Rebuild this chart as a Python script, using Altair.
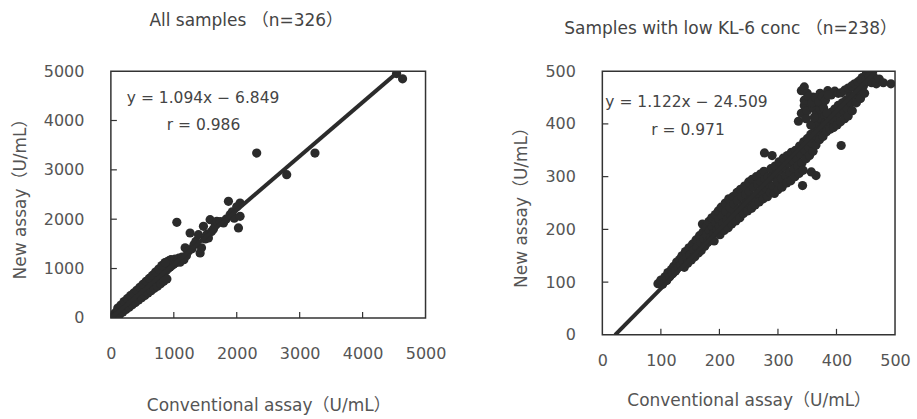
import altair as alt
import pandas as pd

# ---------------- data ----------------
left_x = [15, 25, 30, 40, 45, 55, 60, 70, 75, 85, 90, 100, 105, 115, 120, 130, 135, 145, 150, 160,
          165, 175, 180, 190, 195, 205, 210, 220, 225, 235, 240, 250, 255, 265, 270, 280, 285, 295, 300, 310,
          315, 325, 330, 340, 345, 355, 360, 370, 375, 385, 390, 400, 405, 415, 420, 430, 440, 450, 455, 465,
          470, 480, 490, 500, 505, 515, 520, 530, 540, 550, 555, 565, 575, 585, 590, 600, 610, 620, 630, 640,
          645, 655, 665, 675, 685, 695, 705, 715, 725, 735, 745, 755, 765, 780, 790, 800, 810, 825, 835, 850,
          860, 875, 885, 900, 910, 925, 940, 955, 970, 985, 1000, 1020, 1040, 1060, 1048, 1080, 1100, 1130, 1160, 1180,
          1200, 1230, 1259, 1290, 1320, 1350, 1392, 1418, 1440, 1471, 1500, 1530, 1550, 1577, 1600, 1630, 1660, 1683, 1740, 1789,
          1830, 1868, 1894, 1930, 1960, 2027, 2053, 2053, 2000, 2317, 2794, 3243, 4540, 4635,
          110, 160, 210, 260, 310, 360, 410, 460, 510, 560, 610, 660, 710, 760, 810, 860,
          140, 190, 240, 290, 340, 390, 440, 490, 540, 590, 640, 690, 740, 790, 840, 890]
left_y = [20, 45, 15, 60, 30, 75, 45, 95, 60, 110, 80, 130, 95, 150, 110, 165, 125, 185, 140, 200,
          155, 220, 170, 240, 185, 260, 200, 280, 215, 300, 230, 320, 245, 340, 260, 355, 275, 375, 290, 395,
          305, 410, 320, 430, 335, 450, 350, 470, 365, 490, 380, 510, 395, 530, 410, 545, 430, 565, 450, 585,
          465, 600, 480, 620, 500, 640, 515, 660, 530, 680, 550, 700, 565, 720, 585, 740, 600, 760, 620, 790,
          640, 810, 660, 840, 680, 860, 700, 890, 720, 920, 760, 950, 790, 980, 820, 1010, 860, 1040, 900, 1080,
          940, 1110, 970, 1140, 1000, 1160, 1030, 1180, 1060, 1150, 1090, 1190, 1120, 1160, 1937, 1210, 1130, 1230, 1180, 1420,
          1260, 1350, 1720, 1400, 1480, 1550, 1686, 1316, 1420, 1856, 1600, 1700, 1619, 1990, 1750, 1800, 1880, 1957, 1950, 1923,
          2000, 2362, 2092, 2150, 2020, 1822, 2059, 2328, 2250, 3340, 2901, 3340, 4950, 4845,
          200, 260, 330, 390, 450, 500, 560, 620, 680, 740, 800, 860, 930, 990, 1060, 1120,
          70, 120, 170, 215, 265, 310, 360, 410, 455, 505, 550, 600, 640, 690, 740, 790]

right_x = [95, 100, 103, 107, 110, 112, 115, 118, 120, 122, 125, 127, 130, 132, 134,
           136, 138, 140, 142, 144, 146, 148, 150, 152, 154, 156, 158, 160, 162, 164, 166, 168, 169, 171, 172, 174, 175, 177, 178, 180,
           182, 183, 185, 187, 188, 190, 191, 193, 194, 196, 198, 199, 200, 201, 203, 205, 206, 208, 210, 211, 213, 215, 216, 218, 220, 221, 223, 225, 226, 228,
           230, 231, 233, 235, 236, 238, 240, 241, 243, 245, 246, 248, 250, 251, 253, 255, 256, 258, 260, 261, 263, 265, 266, 268, 270, 271, 273, 275, 276, 278, 280, 277, 290,
           282, 283, 285, 287, 288, 290, 292, 294, 295, 297, 299, 300, 302, 304, 306, 307, 309, 311, 313, 315, 316, 318, 320, 322, 323, 325, 327, 329,
           342, 357, 365, 408,
           330, 332, 334, 336, 337, 339, 341, 343, 344, 346, 348, 350, 352, 354, 356, 358, 360, 361, 363, 365, 367, 369, 371, 373, 375, 377, 379, 381, 383,
           385, 387, 389, 391, 393, 395, 397, 399, 401, 403, 405, 407, 410, 412, 414, 416, 418, 420, 423, 425, 427, 430, 432, 434, 437, 439, 441, 444, 446, 448, 451, 453, 456, 458, 461, 463,
           340, 345, 350, 355, 360, 366, 372, 378, 385, 391, 397, 403, 408, 414, 420, 426, 431, 437, 442, 450, 456, 460, 468, 473, 480, 493,
           335, 340, 345, 350, 355, 360, 365, 368, 372, 376,
           345, 352, 358, 364, 370, 376, 381, 386, 348, 356, 362, 378, 384]
right_y = [97, 104, 96, 110, 103, 118, 110, 124, 116, 130, 121, 138, 128, 143, 133,
           150, 140, 128, 158, 146, 136, 165, 152, 142, 172, 160, 148, 180, 166, 155, 188, 175, 160, 210, 195, 182, 168, 205, 190, 175,
           215, 198, 185, 222, 205, 192, 178, 228, 212, 198, 235, 220, 205, 190, 242, 226, 212, 198, 250, 234, 218, 203, 258, 242, 226, 210, 262, 248, 232, 216,
           270, 255, 238, 222, 276, 262, 245, 230, 282, 266, 250, 235, 290, 272, 256, 240, 295, 280, 262, 246, 300, 286, 268, 252, 305, 290, 272, 258, 310, 295, 278, 345, 340,
           262, 300, 285, 270, 315, 300, 282, 268, 320, 305, 290, 275, 328, 312, 296, 280, 335, 318, 302, 288, 340, 325, 308, 292, 346, 330, 314, 300,
           283, 309, 302, 359,
           350, 335, 320, 306, 358, 342, 326, 312, 366, 350, 334, 372, 356, 340, 380, 364, 348, 395, 378, 360, 402, 386, 370, 410, 394, 376, 418, 402, 385,
           420, 405, 390, 422, 408, 393, 428, 412, 398, 435, 420, 404, 440, 425, 410, 445, 430, 415, 455, 440, 425, 470, 455, 440, 478, 462, 448, 488, 472, 458, 495, 480, 498, 486, 500, 490,
           463, 470, 458, 448, 451, 445, 458, 450, 463, 455, 462, 458, 459, 464, 468, 472, 476, 480, 484, 482, 490, 478, 476, 485, 478, 476,
           405, 420, 435, 425, 440, 430, 418, 440, 428, 437,
           445, 452, 440, 450, 442, 452, 445, 455, 410, 398, 412, 430, 420]

left_ticks = [0, 1000, 2000, 3000, 4000, 5000]
right_ticks = [0, 100, 200, 300, 400, 500]

FONT = "DejaVu Sans, Noto Sans CJK JP"
INK = "#2b2b2b"
LABEL = "#555555"


def panel(xs, ys, ticks, w, h, slope, icpt, eq, rtxt, title, title_dx, title_off,
          xlab_pad, xtitle_pad, eq_pos, r_pos):
    top = ticks[-1]
    pts = pd.DataFrame({"x": xs, "y": ys})
    fit = pd.DataFrame({"x": [(0 - icpt) / slope, (top - icpt) / slope]})
    fit["y"] = slope * fit["x"] + icpt
    inner = pd.DataFrame({"v": ticks[1:-1]})

    xs_ = alt.Scale(domain=[0, top], nice=False, zero=False)
    ys_ = alt.Scale(domain=[0, top], nice=False, zero=False)
    xax = alt.Axis(values=ticks, format="d", ticks=False, domain=False, grid=False, labelPadding=xlab_pad,
                   titlePadding=xtitle_pad, labelFont=FONT, labelFontSize=16, labelColor=LABEL,
                   titleFont=FONT, titleFontSize=17, titleFontWeight="normal", titleColor=LABEL,
                   labelFlush=False)
    yax = alt.Axis(values=ticks, format="d", ticks=False, domain=False, grid=False, labelPadding=27,
                   titlePadding=14, labelFont=FONT, labelFontSize=16, labelColor=LABEL,
                   titleFont=FONT, titleFontSize=17, titleFontWeight="normal", titleColor=LABEL,
                   labelFlush=False)

    base = alt.Chart(pts)
    dots = base.mark_circle(size=85, color=INK, opacity=1, clip=True).encode(
        x=alt.X("x:Q", scale=xs_, axis=xax, title="Conventional assay（U/mL）"),
        y=alt.Y("y:Q", scale=ys_, axis=yax, title="New assay（U/mL）"),
    )
    line = alt.Chart(fit).mark_line(color=INK, strokeWidth=4, clip=True).encode(
        x=alt.X("x:Q", scale=xs_), y=alt.Y("y:Q", scale=ys_))
    xt = alt.Chart(inner).mark_rule(color="#333", strokeWidth=1.2).encode(
        x=alt.X("v:Q", scale=xs_), y=alt.value(h), y2=alt.value(h - 6))
    yt = alt.Chart(inner).mark_rule(color="#333", strokeWidth=1.2).encode(
        y=alt.Y("v:Q", scale=ys_), x=alt.value(0), x2=alt.value(6))
    t1 = alt.Chart(pd.DataFrame({"t": [eq]})).mark_text(
        align="left", baseline="middle", font=FONT, fontSize=15.5, color="#444").encode(
        x=alt.value(eq_pos[0]), y=alt.value(eq_pos[1]), text="t:N")
    t2 = alt.Chart(pd.DataFrame({"t": [rtxt]})).mark_text(
        align="left", baseline="middle", font=FONT, fontSize=15.5, color="#444").encode(
        x=alt.value(r_pos[0]), y=alt.value(r_pos[1]), text="t:N")
    return alt.layer(dots, line, xt, yt, t1, t2).properties(
        width=w, height=h,
        title=alt.TitleParams(title, font=FONT, fontSize=17, fontWeight="normal", color="#444",
                              offset=title_off, dx=title_dx, anchor="middle"),
    )


left = panel(left_x, left_y, left_ticks, 315, 247, 1.094, -6.849,
             "y = 1.094x − 6.849", "r = 0.986", "All samples （n=326）", -22, 33,
             28, 36, (16, 27), (56, 54))
right = panel(right_x, right_y, right_ticks, 293, 264, 1.122, -24.509,
              "y = 1.122x − 24.509", "r = 0.971", "Samples with low KL-6 conc （n=238）", -18, 25,
              18, 24, (3, 31), (49, 59))

chart = alt.hconcat(left, right, spacing=177, bounds="flush").properties(
    padding={"left": 10, "top": 11, "right": 5, "bottom": 5}, background="white"
).configure_view(stroke="#333", strokeWidth=1.5)

chart.save("out.html", embed_options={"renderer": "svg", "actions": False})
